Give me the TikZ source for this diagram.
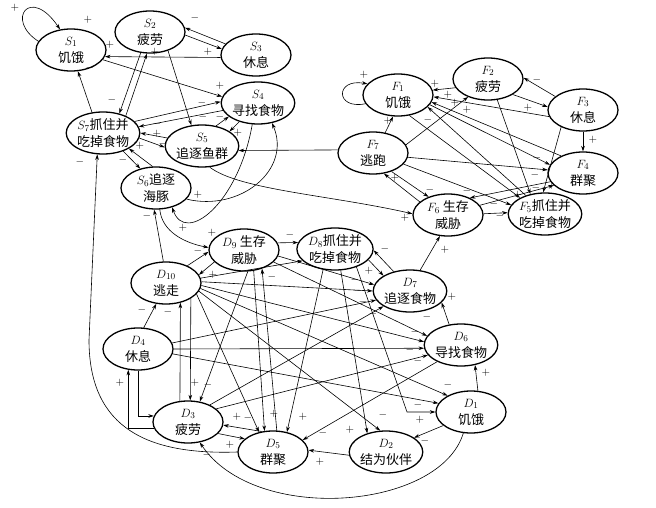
\documentclass[tikz,border=0pt]{standalone}
\usepackage{fontspec}
\newfontfamily\cjk{Noto Sans CJK SC}
\usetikzlibrary{shapes.geometric,arrows.meta}
\begin{document}
\begin{tikzpicture}[x=1pt,y=-1pt,
  st/.style={ellipse,draw,line width=1.3pt,minimum width=70pt,minimum height=42pt,inner sep=0pt,align=center,font=\cjk\fontsize{13}{17}\selectfont},
  e/.style={-{Stealth[length=5.5pt,width=3.6pt]},line width=0.6pt},
  lbl/.style={inner sep=0pt,font=\fontsize{11}{11}\selectfont}]
\fill[white] (0,0) rectangle (656,508);
\useasboundingbox (0,0) rectangle (656,508);
% ---------- nodes ----------
\node[st] (S1) at (71,50) {$S_1$\\饥饿};
\node[st] (S2) at (150,32) {$S_2$\\疲劳};
\node[st] (S3) at (256,55) {$S_3$\\休息};
\node[st] (S4) at (258,103) {$S_4$\\寻找食物};
\node[st] (S5) at (202,146) {$S_5$\\追逐鱼群};
\node[st] (S6) at (156,188) {$S_6$追逐\\海豚};
\node[st] (S7) at (103,133) {$S_7$抓住并\\吃掉食物};
\node[st] (F1) at (398,95) {$F_1$\\饥饿};
\node[st] (F2) at (488,79) {$F_2$\\疲劳};
\node[st] (F3) at (583,110) {$F_3$\\休息};
\node[st] (F4) at (583,173) {$F_4$\\群聚};
\node[st] (F5) at (545,214) {$F_5$抓住并\\吃掉食物};
\node[st] (F6) at (448,215) {$F_6$ 生存\\威胁};
\node[st] (F7) at (373,153) {$F_7$\\逃跑};
\node[st] (D1) at (471,412) {$D_1$\\饥饿};
\node[st] (D2) at (386,452) {$D_2$\\结为伙伴};
\node[st] (D3) at (188,422) {$D_3$\\疲劳};
\node[st] (D4) at (138,349) {$D_4$\\休息};
\node[st] (D5) at (273,452) {$D_5$\\群聚};
\node[st] (D6) at (461,345) {$D_6$\\导找食物};
\node[st] (D7) at (410,291) {$D_7$\\追逐食物};
\node[st] (D8) at (335,249) {$D_8$抓住并\\吃掉食物};
\node[st] (D9) at (244,250) {$D_9$ 生存\\威胁};
\node[st] (D10) at (166,283) {$D_{10}$\\逃走};
% ---------- S cluster ----------
\draw[e] (S1.165) .. controls (5,20) and (30,-15) .. (S1.118);
\draw[e] (S3.160) -- (S2.7);
\draw[e] (S2.-5) -- (S3.170);
\draw[e] (S3.184) -- (S1.-11);
\draw[e] (S1.-17) -- (S4.170);
\draw[e] (S7.118) -- (S1.-72);
\draw[e] (S2.-114) -- (S7.50);
\draw[e] (S7.37) -- (S2.-98);
\draw[e] (S2.-46) -- (S5.117);
\draw[e] (S7.20) -- (S4.178);
\draw[e] (S4.192) -- (S7.10);
\draw[e] (S5.55) -- (S4.205);
\draw[e] (S4.225) -- (S5.28);
\draw[e] (S5.167) -- (S7.0);
\draw[e] (S7.-8) -- (S5.182);
\draw[e] (S7.-42) -- (S6.129);
\draw[e] (S6.99) -- (S7.-31);
\draw[e] (S6.-20) .. controls (240,212) and (292,170) .. (S4.-55);
\draw[e] (S4.-105) .. controls (238,205) and (185,245) .. (S6.-50);
\draw[e] (S6.-80) .. controls (162,232) and (185,243) .. (D9.176);
\draw[e] (D10.97) -- (S6.-95);
\draw[e] (D5.180) .. controls (150,455) and (89,430) .. (89,340) -- (S7.-105);
% ---------- F cluster ----------
\draw[e] (F7.175) -- (S5.-7);
\draw[e] (S5.-70) .. controls (240,190) and (330,195) .. (F6.178);
\draw[e] (F1.195) .. controls (335,110) and (335,78) .. (F1.160);
\draw[e] (F7.59) -- (F1.-103);
\draw[e] (F7.14) -- (F2.222);
\draw[e] (F3.154) -- (F2.2);
\draw[e] (F2.-32) -- (F3.175);
\draw[e] (F2.195) -- (F1.8);
\draw[e] (F3.191) -- (F1.-3);
\draw[e] (F4.142) -- (F1.-12);
\draw[e] (F5.136) -- (F1.-22);
\draw[e] (F1.-17) -- (F4.166);
\draw[e] (F1.-61) -- (F5.147);
\draw[e] (F2.-66) -- (F5.126);
\draw[e] (F3.218) -- (F5.95);
\draw[e] (F3.-90) -- (F4.90);
\draw[e] (F7.-7) -- (F4.175);
\draw[e] (F7.-20) -- (F5.165);
\draw[e] (F7.-45) -- (F6.137);
\draw[e] (F6.155) -- (F7.-62);
\draw[e] (F4.195) -- (F6.38);
\draw[e] (F6.17) -- (F4.203);
\draw[e] (F6.2) -- (F5.178);
\draw[e] (D7.64) -- (F6.-111);
% ---------- D cluster ----------
\draw[e] (D10.39) -- (D9.183);
\draw[e] (D9.202) -- (D10.14);
\draw[e] (D9.12) -- (D8.170);
\draw[e] (D7.130) -- (D8.-2);
\draw[e] (D8.-18) -- (D7.150);
\draw[e] (D6.120) -- (D7.-20);
\draw[e] (D1.72) -- (D6.-55);
\draw[e] (D1.206) -- (D2.27);
\draw[e] (D2.185) -- (D5.3);
\draw[e] (D5.119) -- (D3.-5);
\draw[e] (D3.-21) -- (D5.155);
\draw[e] (D9.-65) -- (D5.112);
\draw[e] (D5.80) -- (D9.-46);
\draw[e] (D1.-110) .. controls (440,510) and (255,525) .. (D3.-60);
\draw[e] (D3.111) -- (D10.-54);
\draw[e] (D10.-32.5) -- (D3.84.5);
\draw[e] (D4.75) -- (D10.-115);
\draw[e] (D4.south) |- (D3.170);
\draw[e] (D3.190) -| (D4.-115);
\draw[e] (D9.-80) -- (D3.60);
% fan from D10
\draw[e] (D10.8) -- (D8.200);
\draw[e] (D10.2) -- (D7.180);
\draw[e] (D10.-4) -- (D6.175);
\draw[e] (D10.-9) -- (D1.145);
\draw[e] (D10.-14) -- (D2.105);
\draw[e] (D10.-20) -- (D5.125);
% from D9
\draw[e] (D9.-10) -- (D7.170);
\draw[e] (D9.-22) -- (D6.165);
% from D4
\draw[e] (D4.10) -- (D7.195);
\draw[e] (D4.0) -- (D6.185);
\draw[e] (D4.-8) -- (D1.165);
% from D3
\draw[e] (D3.38) -- (D7.210);
\draw[e] (D3.25) -- (D6.197);
% from D8
\draw[e] (D8.-40) -- (407,412) -- (D1.180);
\draw[e] (D8.-75) -- (D2.135);
\draw[e] (D8.-120) -- (D5.55);
\draw[e] (D6.215) -- (D5.22);
% ---------- labels ----------
\node[lbl] (l1) at (15,8) {$+$};
\node[lbl] (l2) at (88,20) {$+$};
\node[lbl] (l3) at (195,18) {$-$};
\node[lbl] (l4) at (208,52) {$+$};
\node[lbl] (l5) at (110,45) {$+$};
\node[lbl] (l6) at (220,86) {$+$};
\node[lbl] (l7) at (90,68) {$-$};
\node[lbl] (l8) at (112,100) {$-$};
\node[lbl] (l9) at (155,52) {$+$};
\node[lbl] (l10) at (203,117) {$-$};
\node[lbl] (l11) at (202,103) {$-$};
\node[lbl] (l12) at (157,124) {$-$};
\node[lbl] (l13) at (220,117) {$-$};
\node[lbl] (l14) at (238,133) {$+$};
\node[lbl] (l15) at (157,134) {$+$};
\node[lbl] (l16) at (163,144) {$-$};
\node[lbl] (l17) at (123,160) {$-$};
\node[lbl] (l18) at (140,146) {$+$};
\node[lbl] (l19) at (198,195) {$+$};
\node[lbl] (l20) at (183,228) {$+$};
\node[lbl] (l21) at (212,233) {$+$};
\node[lbl] (l22) at (147,216) {$-$};
\node[lbl] (l23) at (80,162) {$-$};
\node[lbl] (l24) at (405,218) {$+$};
\node[lbl] (l25) at (364,75) {$+$};
\node[lbl] (l26) at (388,121) {$+$};
\node[lbl] (l27) at (537,80) {$-$};
\node[lbl] (l28) at (528,108) {$+$};
\node[lbl] (l29) at (435,84) {$+$};
\node[lbl] (l30) at (448,95) {$+$};
\node[lbl] (l31) at (455,103) {$+$};
\node[lbl] (l32) at (467,110) {$+$};
\node[lbl] (l33) at (537,158) {$-$};
\node[lbl] (l34) at (428,120) {$-$};
\node[lbl] (l35) at (518,195) {$+$};
\node[lbl] (l36) at (536,188) {$-$};
\node[lbl] (l37) at (593,140) {$+$};
\node[lbl] (l38) at (535,175) {$-$};
\node[lbl] (l39) at (494,204) {$-$};
\node[lbl] (l40) at (430,190) {$-$};
\node[lbl] (l41) at (395,178) {$+$};
\node[lbl] (l42) at (467,191) {$-$};
\node[lbl] (l43) at (552,186) {$+$};
\node[lbl] (l44) at (500,216) {$-$};
\node[lbl] (l45) at (445,250) {$+$};
\node[lbl] (l46) at (198,251) {$-$};
\node[lbl] (l47) at (213,275) {$+$};
\node[lbl] (l48) at (290,235) {$-$};
\node[lbl] (l49) at (385,249) {$-$};
\node[lbl] (l50) at (369,271) {$+$};
\node[lbl] (l51) at (452,297) {$+$};
\node[lbl] (l52) at (486,373) {$+$};
\node[lbl] (l53) at (425,441) {$-$};
\node[lbl] (l54) at (320,462) {$+$};
\node[lbl] (l55) at (237,417) {$+$};
\node[lbl] (l56) at (230,445) {$+$};
\node[lbl] (l57) at (274,414) {$+$};
\node[lbl] (l58) at (272,277) {$-$};
\node[lbl] (l59) at (207,455) {$-$};
\node[lbl] (l60) at (168,312) {$-$};
\node[lbl] (l61) at (195,383) {$+$};
\node[lbl] (l62) at (142,310) {$-$};
\node[lbl] (l63) at (120,383) {$+$};
\node[lbl] (l64) at (355,280) {$-$};
\node[lbl] (l65) at (358,291) {$-$};
\node[lbl] (l66) at (363,302) {$-$};
\node[lbl] (l67) at (373,314) {$-$};
\node[lbl] (l68) at (427,317) {$-$};
\node[lbl] (l69) at (415,332) {$-$};
\node[lbl] (l70) at (410,350) {$-$};
\node[lbl] (l71) at (418,361) {$-$};
\node[lbl] (l72) at (448,385) {$-$};
\node[lbl] (l73) at (418,405) {$-$};
\node[lbl] (l74) at (420,420) {$+$};
\node[lbl] (l75) at (350,430) {$+$};
\node[lbl] (l76) at (383,415) {$-$};
\node[lbl] (l77) at (303,417) {$+$};
\node[lbl] (l78) at (323,433) {$-$};
\node[lbl] (l79) at (248,418) {$-$};
\node[lbl] (l80) at (208,385) {$-$};
\end{tikzpicture}
\end{document}
